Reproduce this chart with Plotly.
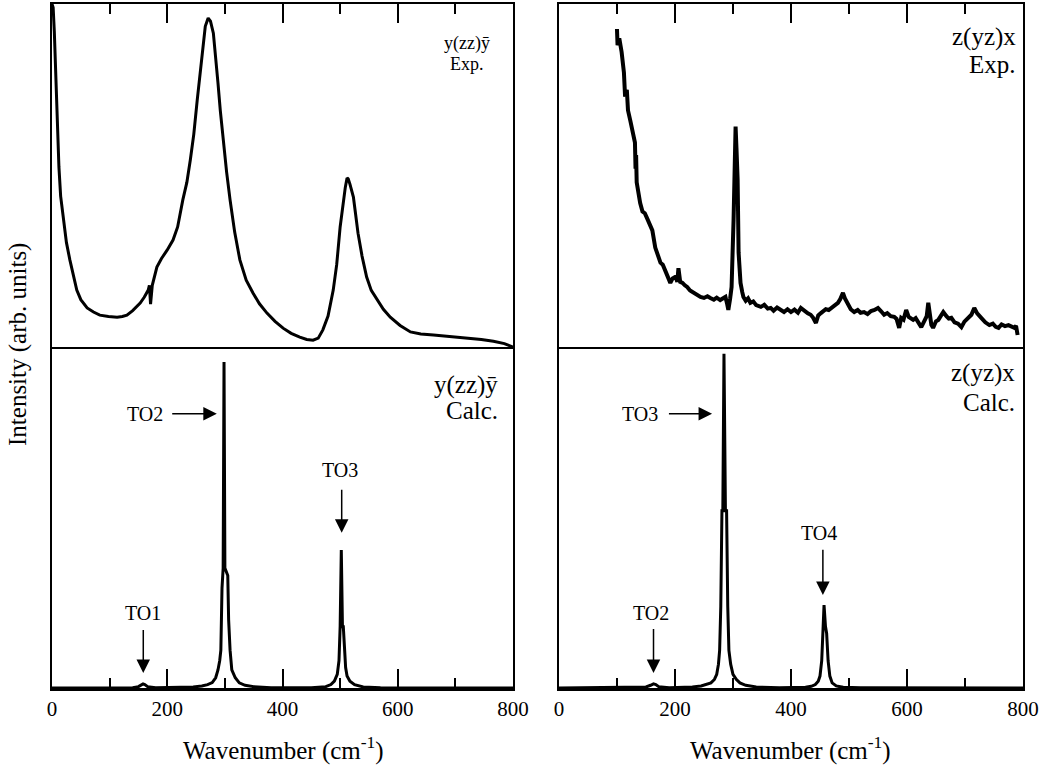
import plotly.graph_objects as go

# ---------------- data ----------------
exp_zz_wn = [0, 2, 4, 5, 8, 12, 15, 19, 25, 31, 37, 43, 50, 61, 72, 83, 98, 113, 122, 130,
             140, 153, 160, 167, 169, 171, 174, 182, 190, 200, 210, 218, 227, 234, 240, 246,
             252, 257, 262, 266, 271, 275, 280, 284, 288, 292, 297, 303, 309, 317, 326, 337,
             349, 360, 373, 387, 401, 415, 430, 442, 453, 462, 470, 479, 488, 494, 500, 505,
             509, 512, 514, 517, 523, 527, 531, 538, 546, 554, 564, 575, 587, 604, 622, 640,
             662, 690, 720, 745, 766, 785, 800]
exp_zz_int = [100, 99, 92, 86.6, 70, 52.5, 44, 37.9, 30.5, 25.4, 20.5, 16.6, 13.8, 11.4, 10.2,
              9.3, 8.9, 8.7, 8.9, 9.3, 10.6, 12.8, 14.5, 16.6, 18, 12.5, 18, 23.3, 25.8, 28.3,
              31.2, 35, 42.9, 48, 54.5, 62, 72, 80, 88.6, 93.5, 95.9, 95, 91.5, 85, 77, 69,
              60.3, 51, 42.9, 33.5, 25.4, 19.5, 15.7, 12.6, 9.9, 7.5, 5.5, 4, 2.9, 2.2, 2, 2.6,
              5, 9, 16.6, 24, 35, 42, 46.6, 49.3, 49, 47.5, 43.7, 38.5, 33.2, 26.5, 20.4, 16.5,
              13.7, 11, 8.7, 6.3, 4.4, 3.8, 3.5, 3.1, 2.6, 2.2, 1.7, 1, 0]

exp_yz_wn = [100, 100.5, 101, 104, 108, 112, 114, 117, 119, 123, 126, 129, 131, 132, 133, 134, 137,
             140, 144, 148, 152, 156, 161, 166, 170, 175, 179, 183, 187, 192, 196, 201, 204,
             206, 209, 213, 217, 221, 226, 232, 238, 244, 250, 256, 261, 267, 272, 278, 283,
             287, 290, 292, 295, 297.6, 301, 303, 304.5, 306, 308, 309.7, 313, 316, 318, 322,
             326, 330, 335, 340, 348, 354, 360, 365, 370, 376, 382, 388, 394, 400, 406, 412,
             417, 423, 429, 434, 438, 443, 447, 451.6, 456, 460, 465, 469, 475, 481, 485,
             489.6, 493, 498, 503, 509, 515, 520, 526, 532, 538, 544, 550, 555, 560.6, 566,
             572, 578, 582, 586.5, 590, 594, 598.6, 603, 610.7, 615, 620, 624.6, 630, 634,
             636.7, 639, 642, 645, 650, 654, 658, 662.6, 668, 672, 676.5, 682, 688, 693.8,
             699, 706, 711, 716, 721, 728, 735, 742, 748, 753, 757.8, 763, 769, 775, 780,
             785, 788, 790.7]
exp_yz_int = [92.7, 88, 88, 90, 86, 80, 73, 75, 69, 66, 63.5, 61, 59.6, 52, 56, 48, 44, 42, 39.5,
              39, 37.5, 36, 34, 29, 27, 24.6, 24, 22.5, 20.5, 18.7, 20, 20.5, 19, 23, 19,
              18.7, 18, 17.5, 16.5, 15.8, 15, 14.6, 14.3, 14.8, 14.3, 13.8, 14.4, 13.7, 14.2,
              14.6, 12.5, 10.8, 14, 17.5, 37, 55, 64.3, 58, 48.8, 27.5, 18.7, 16, 14.6, 13.5,
              14.2, 12.9, 13.3, 12.2, 11.7, 12.3, 11.2, 11.4, 10.6, 11.5, 10.8, 10.2, 11,
              10.2, 10.9, 10, 11.4, 10.4, 9.8, 9.4, 8.6, 7, 9.2, 9.9, 10.5, 11, 10.8, 11.4,
              12.2, 12.9, 14, 15.8, 14.2, 12.3, 11, 10.2, 10.8, 10, 10.2, 9.6, 10.5, 10.8,
              11.4, 10.5, 9.4, 9.9, 9, 8.8, 8.2, 5.6, 8.5, 8, 10.8, 8.8, 7.9, 8.4, 6.8, 5.8,
              7.6, 9, 12.9, 9.5, 6.5, 5.6, 7.5, 7.9, 9.2, 10.2, 9, 8.3, 8.5, 7.2, 6.8, 5.8,
              7.4, 8.5, 9.4, 11.4, 9.8, 8.5, 7.2, 6.4, 6.8, 5.9, 5.6, 6.6, 6.1, 6.4, 5.9,
              5.6, 6.2, 3.5]

calc_zz_wn = [0, 100, 140, 150, 155, 158, 161, 166, 180, 220, 245, 260, 270, 278, 284, 288,
              291, 293, 295, 297, 298.5, 300, 305, 306.5, 309, 312, 318, 325, 335, 350, 380,
              450, 475, 484, 490, 495, 498, 500, 502, 504, 505.5, 507.5, 509.5, 512, 517, 525,
              540, 570, 800]
calc_zz_int = [0, 0, 0.1, 0.4, 1, 1.2, 1, 0.4, 0.1, 0.1, 0.3, 0.6, 1, 1.6, 3, 5.3, 8, 11.1,
               29.3, 35.2, 95.6, 35.2, 33, 20, 11.1, 5.3, 3, 1.5, 0.8, 0.4, 0.1, 0.1, 0.4, 1,
               2, 4, 8, 18, 40.5, 18, 18, 12, 6, 3.5, 2, 1, 0.3, 0.1, 0]

calc_yz_wn = [0, 120, 150, 158, 163, 167, 172, 190, 230, 245, 255, 262, 268, 272, 275, 277,
              279, 281, 282.5, 284.5, 287, 289, 291, 293, 296, 300, 306, 312, 322, 340, 380,
              425, 435, 442, 447, 450, 453, 455, 457, 459.5, 461.5, 464, 467, 471, 478, 490,
              520, 800]
calc_yz_int = [0, 0.1, 0.3, 0.8, 1.2, 1, 0.4, 0.1, 0.3, 0.6, 1, 1.5, 2.5, 4, 7, 11, 24, 52,
               52, 98, 52, 52, 24, 11, 7, 4, 2.5, 1.5, 0.8, 0.3, 0.1, 0.2, 0.5, 1, 2, 3.5, 8,
               16, 24.3, 18, 16, 8, 3.5, 1.5, 0.6, 0.2, 0.1, 0]

mode_panel = ["bl", "bl", "bl", "br", "br", "br"]
mode_label = ["TO2", "TO3", "TO1", "TO3", "TO4", "TO2"]
mode_text_x = [161, 499, 158, 139, 448, 159]
mode_text_y = [80.4, 63.9, 22, 80.4, 45.5, 22]
mode_tail_x = [206, 502.7, 158.4, 187, 455, 163]
mode_tail_y = [80.4, 58.7, 17.6, 80.4, 41.1, 17.9]
mode_head_x = [286, 502.7, 158.4, 264, 455, 163]
mode_head_y = [80.4, 45.5, 4.4, 80.4, 27.3, 4.4]

x_ticks = [0, 200, 400, 600, 800]

# ---------------- figure ----------------
FONT = "Liberation Serif, Times New Roman, serif"
LINE = dict(color="black", width=3)

fig = go.Figure()
fig.add_trace(go.Scatter(x=exp_zz_wn, y=exp_zz_int, xaxis="x", yaxis="y", mode="lines",
                         line=LINE, showlegend=False))
fig.add_trace(go.Scatter(x=exp_yz_wn, y=exp_yz_int, xaxis="x2", yaxis="y2", mode="lines",
                         line=dict(color="black", width=4), showlegend=False))
fig.add_trace(go.Scatter(x=calc_zz_wn, y=calc_zz_int, xaxis="x3", yaxis="y3", mode="lines",
                         line=LINE, showlegend=False))
fig.add_trace(go.Scatter(x=calc_yz_wn, y=calc_yz_int, xaxis="x4", yaxis="y4", mode="lines",
                         line=LINE, showlegend=False))

L_END = 0.4748
R_START = 0.5221
Y_SPLIT = 0.4985


def xaxis(domain, anchor, top):
    d = dict(domain=domain, anchor=anchor, range=[0, 800], showgrid=False, zeroline=False,
             showline=True, linecolor="black",
             ticks="inside", ticklen=19, tickwidth=2, tickcolor="black",
             tickmode="array", tickvals=x_ticks,
             minor=dict(ticks="inside", ticklen=10, tickwidth=1.5, tickcolor="black",
                        tickmode="linear", tick0=0, dtick=100),
             tickfont=dict(family=FONT, size=21, color="black"))
    if top:
        d.update(side="top", mirror=True, linewidth=1.5, showticklabels=False)
    else:
        d.update(side="bottom", mirror=False, linewidth=3, showticklabels=True)
    return d


def yaxis(domain, anchor):
    return dict(domain=domain, anchor=anchor, range=[0, 100], showgrid=False, zeroline=False,
                showline=True, mirror=True, linecolor="black", linewidth=1.5, ticks="",
                showticklabels=False)


annotations = []
panel_labels = [
    ("x", "y", 720, 88.6, "y(zz)ȳ", 18, "center"),
    ("x", "y", 720, 82.6, "Exp.", 18, "center"),
    ("x2", "y2", 792, 90.3, "z(yz)x", 25, "right"),
    ("x2", "y2", 792, 82.5, "Exp.", 25, "right"),
    ("x3", "y3", 778, 88.9, "y(zz)ȳ", 25, "right"),
    ("x3", "y3", 778, 81.4, "Calc.", 25, "right"),
    ("x4", "y4", 790, 92.4, "z(yz)x", 25, "right"),
    ("x4", "y4", 790, 83.6, "Calc.", 25, "right"),
]
for xr, yr, xv, yv, txt, sz, anc in panel_labels:
    annotations.append(dict(xref=xr, yref=yr, x=xv, y=yv, text=txt, showarrow=False,
                            xanchor=anc, yanchor="middle",
                            font=dict(family=FONT, size=sz, color="black")))

refs = {"bl": ("x3", "y3"), "br": ("x4", "y4")}
for i, lab in enumerate(mode_label):
    xr, yr = refs[mode_panel[i]]
    annotations.append(dict(xref=xr, yref=yr, x=mode_text_x[i], y=mode_text_y[i], text=lab,
                            showarrow=False, xanchor="center", yanchor="middle",
                            font=dict(family=FONT, size=20, color="black")))
    annotations.append(dict(xref=xr, yref=yr, x=mode_head_x[i], y=mode_head_y[i], text=" ",
                            showarrow=True, axref=xr, ayref=yr, ax=mode_tail_x[i],
                            ay=mode_tail_y[i], arrowhead=2, arrowsize=1.8, arrowwidth=1.5,
                            arrowcolor="black", font=dict(size=1)))

annotations.append(dict(xref="paper", yref="paper", x=-0.035, y=0.5015,
                        text="Intensity (arb. units)", textangle=-90, showarrow=False,
                        xanchor="center", yanchor="middle",
                        font=dict(family=FONT, size=25, color="black")))
for xc in [0.2379, 0.761]:
    annotations.append(dict(xref="paper", yref="paper", x=xc, y=-0.088,
                            text="Wavenumber (cm<sup>-1</sup>)", showarrow=False,
                            xanchor="center", yanchor="middle",
                            font=dict(family=FONT, size=25, color="black")))

fig.update_layout(
    template="none",
    width=1042, height=767,
    margin=dict(l=52, r=19, t=4, b=79),
    paper_bgcolor="white", plot_bgcolor="white",
    showlegend=False,
    xaxis=xaxis([0, L_END], "y", True),
    xaxis2=xaxis([R_START, 1], "y2", True),
    xaxis3=xaxis([0, L_END], "y3", False),
    xaxis4=xaxis([R_START, 1], "y4", False),
    yaxis=yaxis([Y_SPLIT, 1], "x"),
    yaxis2=yaxis([Y_SPLIT, 1], "x2"),
    yaxis3=yaxis([0, Y_SPLIT], "x3"),
    yaxis4=yaxis([0, Y_SPLIT], "x4"),
    annotations=annotations,
)

fig.write_html("out.html", config={"displayModeBar": False},
               post_script="document.body.style.margin='0px';document.body.style.overflow='hidden';")
